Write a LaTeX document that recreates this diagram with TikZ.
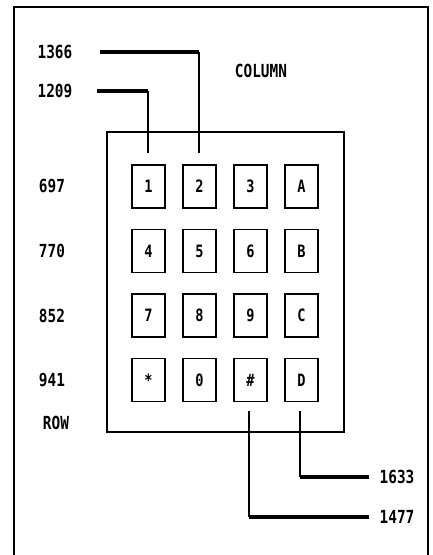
\documentclass[tikz,border=0pt]{standalone}
\usepackage{fontspec}
\setmonofont{DejaVu Sans Mono}
\newcommand\narrowtxt[1]{\scalebox{0.8}[1]{#1}}
\begin{document}
\begin{tikzpicture}[x=1pt,y=-1pt,
  lbl/.style={font=\ttfamily\bfseries\fontsize{18}{18}\selectfont, inner sep=0pt},
  key/.style={draw, line width=1.1pt, minimum width=33pt, minimum height=43pt, inner sep=0pt, font=\ttfamily\bfseries\fontsize{17}{17}\selectfont},
  bus/.style={line width=3.5pt},
  wire/.style={line width=1.4pt}]
\useasboundingbox (0,0) rectangle (432,555);
% frame
\draw[line width=1.5pt] (14,555) -- (14,7) -- (428,7) -- (428,555);
% keypad housing
\node[draw, line width=1.5pt, minimum width=237pt, minimum height=300pt, inner sep=0pt] (pad) at (225.5,282) {};
% keys
\foreach \t [count=\i from 0] in {1,2,3,A,4,5,6,B,7,8,9,C,*,0,\#,D}{
  \pgfmathtruncatemacro{\c}{mod(\i,4)}
  \pgfmathtruncatemacro{\r}{div(\i,4)}
  \node[key] (k\i) at (148.5+51*\c, 186.5+64.5*\r) {\narrowtxt{\t}};
}
% labels
\node[lbl] (f1366) at (55,52) {\narrowtxt{1366}};
\node[lbl] (f1209) at (55,91) {\narrowtxt{1209}};
\node[lbl] (col) at (261,71) {\narrowtxt{COLUMN}};
\node[lbl] (f697) at (52,186) {\narrowtxt{697}};
\node[lbl] (f770) at (52,251) {\narrowtxt{770}};
\node[lbl] (f852) at (52,316) {\narrowtxt{852}};
\node[lbl] (f941) at (52,380) {\narrowtxt{941}};
\node[lbl] (row) at (56,423) {\narrowtxt{ROW}};
\node[lbl] (f1633) at (397,477) {\narrowtxt{1633}};
\node[lbl] (f1477) at (397,517) {\narrowtxt{1477}};
% column connectors
\coordinate (a1366) at (100,52);
\coordinate (b1366) at (199,52);
\coordinate (e1366) at (199,153);
\draw[bus] (a1366) -- (b1366);
\draw[wire] (b1366) -- (e1366);
\coordinate (a1209) at (97,91);
\coordinate (b1209) at (148,91);
\coordinate (e1209) at (148,153);
\draw[bus] (a1209) -- (b1209);
\draw[wire] (b1209) -- (e1209);
\coordinate (s1633) at (300,411);
\coordinate (b1633) at (300,477);
\coordinate (a1633) at (369,477);
\draw[wire] (s1633) -- (b1633);
\draw[bus] (b1633) -- (a1633);
\coordinate (s1477) at (249,411);
\coordinate (b1477) at (249,517);
\coordinate (a1477) at (369,517);
\draw[wire] (s1477) -- (b1477);
\draw[bus] (b1477) -- (a1477);
\end{tikzpicture}
\end{document}
